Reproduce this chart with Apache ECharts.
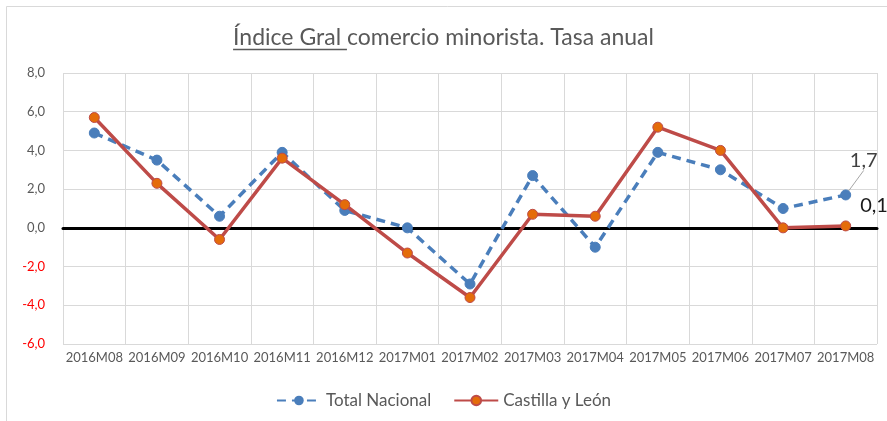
<!DOCTYPE html>
<html>
<head>
<meta charset="utf-8">
<script src="https://cdn.jsdelivr.net/npm/echarts@6/dist/echarts.min.js"></script>
<style>
html,body{margin:0;padding:0;background:#fff;}
#c{width:887px;height:421px;}
</style>
</head>
<body>
<div id="c"></div>
<script>
var categories = ['2016M08','2016M09','2016M10','2016M11','2016M12','2017M01','2017M02','2017M03','2017M04','2017M05','2017M06','2017M07','2017M08'];
var totalNacional = [4.9, 3.5, 0.6, 3.9, 0.9, 0.0, -2.9, 2.7, -1.0, 3.9, 3.0, 1.0, 1.7];
var castillaLeon = [5.7, 2.3, -0.6, 3.6, 1.2, -1.3, -3.6, 0.7, 0.6, 5.2, 4.0, 0.0, 0.1];
var seriesNames = ['Total Nacional', 'Castilla y León'];
var titleUnderlined = 'Índice Gral ';
var titleRest = 'comercio minorista. Tasa anual';

var FONT = 'Lato, "Liberation Sans", sans-serif';
var TITLE_SIZE = 23;
function fmt(v){ return v.toFixed(1).replace('.', ','); }

var chart = echarts.init(document.getElementById('c'), null, {renderer:'canvas'});
var lastIdx = categories.length - 1;

var tnData = totalNacional.map(function(v,i){
  if (i === lastIdx) {
    return {value: v, label: {show: true, formatter: function(p){return fmt(p.value);}, position: 'top', color: '#404040', fontSize: 20, fontFamily: FONT}};
  }
  return v;
});
var clData = castillaLeon.map(function(v,i){
  if (i === lastIdx) {
    return {value: v, label: {show: true, formatter: function(p){return fmt(p.value);}, position: 'right', offset: [4, -20], color: '#1a1a1a', fontSize: 20, fontFamily: FONT}};
  }
  return v;
});

chart.setOption({
  animation: false,
  backgroundColor: '#fff',
  textStyle: {fontFamily: FONT},
  title: {
    text: '{u|' + titleUnderlined + '}{n|' + titleRest + '}',
    left: 'center',
    top: 21,
    textStyle: {
      fontWeight: 'normal',
      rich: {
        u: {fontSize: TITLE_SIZE, color: '#595959', fontFamily: FONT, fontWeight: 'normal'},
        n: {fontSize: TITLE_SIZE, color: '#595959', fontFamily: FONT, fontWeight: 'normal'}
      }
    }
  },
  graphic: [
    {type: 'rect', shape: {x: 6.5, y: 6.5, width: 900, height: 430}, style: {fill: 'none', stroke: '#d9d9d9', lineWidth: 1}, silent: true, z: -1},
    {type: 'line', id: 'ul', shape: {x1: 0, y1: 0, x2: 0, y2: 0}, style: {stroke: '#595959', lineWidth: 1.5}, silent: true}
  ],
  legend: {
    data: seriesNames,
    top: 387,
    left: 'center',
    itemWidth: 44,
    itemHeight: 12,
    itemGap: 22,
    textStyle: {fontSize: 17, color: '#595959', fontFamily: FONT}
  },
  grid: {left: 63, right: 10, top: 73, bottom: 77, containLabel: false},
  xAxis: {
    type: 'category',
    data: categories,
    boundaryGap: true,
    axisLine: {show: true, onZero: true, lineStyle: {color: '#000', width: 3}},
    axisTick: {show: false},
    axisLabel: {color: '#595959', fontSize: 13, fontFamily: FONT, margin: 7, interval: 0},
    splitLine: {show: true, interval: 0, lineStyle: {color: '#d9d9d9', width: 1}},
    position: 'bottom'
  },
  yAxis: {
    type: 'value',
    min: -6, max: 8, interval: 2,
    axisLine: {show: false},
    axisTick: {show: false},
    axisLabel: {fontSize: 13, fontFamily: FONT, margin: 18,
      formatter: function(v){return fmt(v);},
      color: function(v){ return Number(v) < 0 ? '#ff0000' : '#595959'; }},
    splitLine: {show: true, lineStyle: {color: '#d9d9d9', width: 1}}
  },
  series: [
    {
      name: seriesNames[0],
      type: 'line',
      data: tnData,
      symbol: 'circle',
      symbolSize: 10,
      lineStyle: {color: '#4a7ebb', width: 3.5, type: [9, 6]},
      itemStyle: {color: '#4a7ebb', borderColor: '#4a7ebb'},
      labelLayout: function(p){ return p.dataIndex === lastIdx ? {dx: 18, dy: -14} : {}; },
      labelLine: {show: true, lineStyle: {color: '#a6a6a6', width: 1}},
      z: 3
    },
    {
      name: seriesNames[1],
      type: 'line',
      data: clData,
      symbol: 'circle',
      symbolSize: 10,
      lineStyle: {color: '#be4b48', width: 3.5},
      itemStyle: {color: '#e46c0a', borderColor: '#be4b48', borderWidth: 1},
      z: 4
    }
  ]
});

// underline beneath the first part of the title, measured from the rendered text
(function(){
  var ctx = document.createElement('canvas').getContext('2d');
  ctx.font = TITLE_SIZE + 'px ' + FONT;
  var wU = ctx.measureText(titleUnderlined).width;
  var wAll = ctx.measureText(titleUnderlined + titleRest).width;
  var x0 = 887 / 2 - wAll / 2;
  chart.setOption({graphic: [{id: 'ul', shape: {x1: x0, y1: 49.5, x2: x0 + wU, y2: 49.5}}]});
})();
</script>
</body>
</html>
